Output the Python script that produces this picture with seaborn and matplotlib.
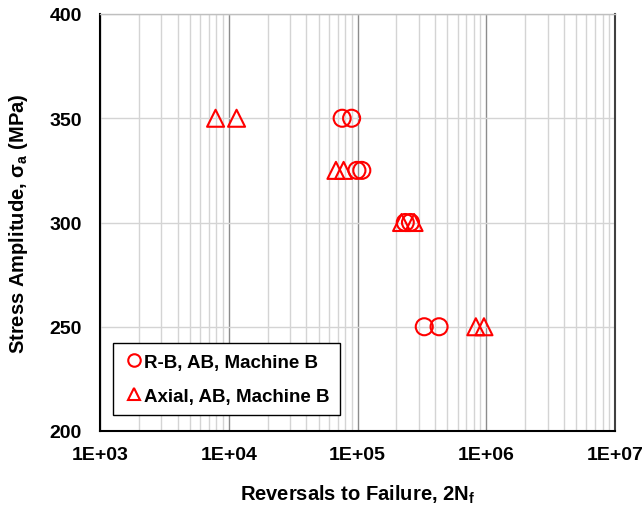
import matplotlib
matplotlib.use("Agg")
import matplotlib.pyplot as plt
import matplotlib.ticker as mticker
from matplotlib.lines import Line2D
import seaborn as sns
import pandas as pd
import numpy as np

# Data
rb_reversals = [7.6e4, 9.0e4, 9.9e4, 1.08e5, 2.35e5, 2.58e5, 3.3e5, 4.3e5]
rb_stress = [350, 350, 325, 325, 300, 300, 250, 250]
axial_reversals = [7.9e3, 1.15e4, 6.8e4, 7.8e4, 2.2e5, 2.75e5, 8.3e5, 9.6e5]
axial_stress = [350, 350, 325, 325, 300, 300, 250, 250]
series_names = ["R-B, AB, Machine B", "Axial, AB, Machine B"]
x_tick_labels = ["1E+03", "1E+04", "1E+05", "1E+06", "1E+07"]

df = pd.DataFrame({
    "x": rb_reversals + axial_reversals,
    "y": rb_stress + axial_stress,
    "series": [series_names[0]] * len(rb_reversals) + [series_names[1]] * len(axial_reversals),
})

sns.set_style("white")
plt.rcParams["font.family"] = ["Liberation Sans", "DejaVu Sans"]
plt.rcParams["font.weight"] = "bold"
plt.rcParams["text.color"] = "black"
plt.rcParams["axes.labelcolor"] = "black"
plt.rcParams["xtick.color"] = "black"
plt.rcParams["ytick.color"] = "black"
plt.rcParams["mathtext.fontset"] = "custom"
plt.rcParams["mathtext.bf"] = "Liberation Sans:bold"
plt.rcParams["mathtext.rm"] = "Liberation Sans:bold"

fig = plt.figure(figsize=(6.44, 5.06), dpi=100)
ax = fig.add_axes([100 / 644, 1 - 432 / 506, 515 / 644, 417 / 506])

ax.set_xscale("log")
ax.set_xlim(1e3, 1e7)
ax.set_ylim(200, 400)

ax.xaxis.set_minor_locator(mticker.LogLocator(base=10, subs=np.arange(2, 10)))
ax.xaxis.set_minor_formatter(mticker.NullFormatter())
ax.set_xticks([1e3, 1e4, 1e5, 1e6, 1e7])
ax.set_xticklabels(x_tick_labels)
ax.set_yticks([200, 250, 300, 350, 400])
ax.yaxis.set_minor_locator(mticker.MultipleLocator(25))
ax.grid(True, which="major", axis="x", color="#8c8c8c", lw=1.0, zorder=0)
ax.grid(True, which="minor", axis="x", color="#d4d4d4", lw=1.0, zorder=0)
ax.grid(True, which="major", axis="y", color="#d4d4d4", lw=1.0, zorder=0)
ax.set_axisbelow(True)

sns.scatterplot(
    data=df, x="x", y="y", hue="series", style="series",
    hue_order=series_names, style_order=series_names,
    palette=["red", "red"], markers=["o", "^"],
    s=150, ax=ax, legend=False, zorder=3,
)
for coll in ax.collections:
    coll.set_facecolor("none")
    coll.set_edgecolor("red")
    coll.set_linewidth(1.5)

handles = [
    Line2D([], [], ls="none", marker="o", markersize=9, mfc="none", mec="red", mew=1.5),
    Line2D([], [], ls="none", marker="^", markersize=9, mfc="none", mec="red", mew=1.5),
]
leg = ax.legend(handles, series_names, loc="lower left", bbox_to_anchor=(13 / 515, 16 / 417),
                frameon=True, fancybox=False, edgecolor="black", framealpha=1,
                handletextpad=0.0, handlelength=1.1, borderpad=0.55, labelspacing=0.9,
                borderaxespad=0, prop={"weight": "bold", "size": 13.5})
leg.get_frame().set_linewidth(1.0)

for side in ["left", "bottom"]:
    ax.spines[side].set_color("black")
    ax.spines[side].set_linewidth(1.5)
ax.spines["top"].set_color("#bfbfbf")
ax.spines["top"].set_linewidth(1.0)
ax.spines["right"].set_color("#404040")
ax.spines["right"].set_linewidth(1.5)

ax.tick_params(axis="both", which="major", direction="in", length=5, width=1,
               labelsize=14, color="black")
ax.tick_params(axis="x", which="major", pad=11)
ax.tick_params(axis="y", which="major", pad=13)
ax.tick_params(axis="both", which="minor", direction="in", length=4, width=1, color="black")
ax.tick_params(axis="x", which="both", top=False)
ax.tick_params(axis="y", which="both", right=False)
for lab in ax.get_xticklabels() + ax.get_yticklabels():
    lab.set_fontweight("bold")

ax.set_xlabel("Reversals to Failure, 2N$_\\mathbf{f}$", fontsize=14.5, fontweight="bold", labelpad=14)
ax.set_ylabel("Stress Amplitude, $\\mathbf{\\sigma}_\\mathbf{a}$ (MPa)", fontsize=14.5,
              fontweight="bold", labelpad=14)

fig.savefig("out.png", dpi=100)
